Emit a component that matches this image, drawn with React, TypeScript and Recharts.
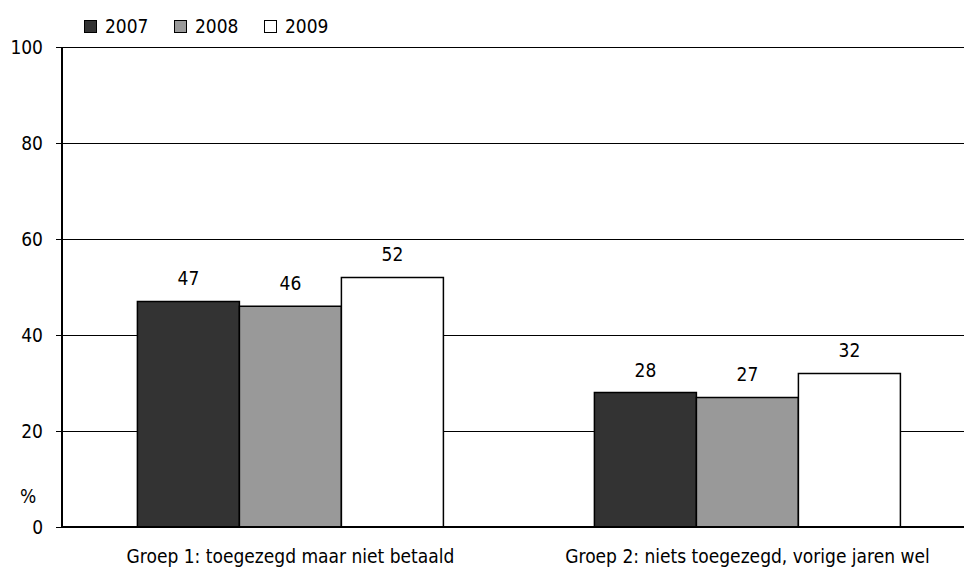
import { BarChart, Bar, XAxis, YAxis, CartesianGrid, LabelList } from 'recharts';

const groups = ['Groep 1: toegezegd maar niet betaald', 'Groep 2: niets toegezegd, vorige jaren wel'];
const values2007 = [47, 28];
const values2008 = [46, 27];
const values2009 = [52, 32];
const yTicks = [0, 20, 40, 60, 80, 100];

const series = [
  { key: 'y2007', name: '2007', fill: '#333333' },
  { key: 'y2008', name: '2008', fill: '#999999' },
  { key: 'y2009', name: '2009', fill: '#ffffff' },
];

const FONT = '"Liberation Sans Narrow", "Arial Narrow", "DejaVu Sans Condensed", sans-serif';

const data = groups.map((g, i) => ({
  name: g,
  y2007: values2007[i],
  y2008: values2008[i],
  y2009: values2009[i],
}));

export default function App() {
  return (
    <div
      style={{
        position: 'absolute',
        left: 0,
        top: 0,
        width: 964,
        height: 575,
        overflow: 'hidden',
        background: '#fff',
        fontFamily: FONT,
      }}
    >
      <BarChart
        width={976}
        height={575}
        data={data}
        margin={{ top: 47, right: 0, bottom: 0, left: 0 }}
        barCategoryGap="16.5%"
        barGap={0}
      >
        <CartesianGrid vertical={false} stroke="#000" strokeWidth={1} strokeOpacity={1} shapeRendering="crispEdges" />
        <XAxis
          dataKey="name"
          height={48}
          tickLine={false}
          tickSize={0}
          tickMargin={23}
          axisLine={{ stroke: '#000', strokeWidth: 2 }}
          tick={{ fill: '#000', fontSize: 19, fontFamily: FONT }}
        />
        <YAxis
          width={62}
          domain={[0, 100]}
          ticks={yTicks}
          interval={0}
          tickSize={6}
          tickMargin={13}
          axisLine={{ stroke: '#000', strokeWidth: 2 }}
          tickLine={{ stroke: '#000', strokeWidth: 1, shapeRendering: 'crispEdges' }}
          tick={{ fill: '#000', fontSize: 19, fontFamily: FONT }}
        />
        {series.map((s) => (
          <Bar
            key={s.key}
            dataKey={s.key}
            name={s.name}
            fill={s.fill}
            stroke="#000"
            strokeWidth={1.5}
            isAnimationActive={false}
          >
            <LabelList
              dataKey={s.key}
              position="top"
              offset={16}
              style={{ fill: '#000', fontSize: 19, fontFamily: FONT }}
            />
          </Bar>
        ))}
      </BarChart>

      <div
        style={{
          position: 'absolute',
          left: 84,
          top: 14,
          display: 'flex',
          fontSize: 19,
          lineHeight: '24px',
          color: '#000',
        }}
      >
        {series.map((s) => (
          <div key={s.key} style={{ display: 'flex', alignItems: 'center', width: 90 }}>
            <span
              style={{
                display: 'inline-block',
                width: 11,
                height: 11,
                background: s.fill,
                border: '1px solid #000',
                marginRight: 8,
              }}
            />
            <span>{s.name}</span>
          </div>
        ))}
      </div>

      <div style={{ position: 'absolute', left: 20, top: 485, fontSize: 19, color: '#000' }}>%</div>
    </div>
  );
}
